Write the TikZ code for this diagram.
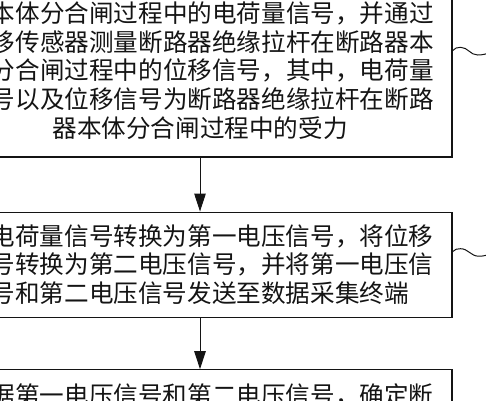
\documentclass[tikz,border=0pt]{standalone}
\usepackage{fontspec}
\setmainfont{Noto Sans CJK SC}
\usepackage{tikz}
\usetikzlibrary{arrows.meta, positioning}
\definecolor{inkblack}{RGB}{20, 20, 20}
\newcommand{\cjkstrut}{\rule[-0.12em]{0pt}{1em}}

\begin{document}
\begin{tikzpicture}[x=1pt, y=1pt,
  stepbox/.style={draw=inkblack, line width=1.1pt, text=inkblack, text width=468pt, inner xsep=18pt, inner ysep=0pt,
    font=\fontsize{24.6pt}{28.7pt}\selectfont, execute at begin node=\cjkstrut, execute at end node=\cjkstrut},
  flow/.style={draw=inkblack, line width=1pt, -{Triangle[length=18pt, width=11.5pt]}},
  leader/.style={draw=inkblack, line width=1pt}]
  \useasboundingbox (0,0) rectangle (486,400);
  \clip (0,0) rectangle (486,400);

  \node[stepbox, align=center, minimum height=173pt] (measure) at (200,329.5) {
    \phantom{器}本体分合闸过程中的电荷量信号，并通过\\
    \phantom{位}移传感器测量断路器绝缘拉杆在断路器本\\
    \phantom{体}分合闸过程中的位移信号，其中，电荷量\\
    \phantom{信}号以及位移信号为断路器绝缘拉杆在断路\\
    器本体分合闸过程中的受力
  };
  \node[stepbox, align=left, minimum height=105pt, below=54pt of measure] (convert) {
    \phantom{将}电荷量信号转换为第一电压信号，将位移\\
    \phantom{信}号转换为第二电压信号，并将第一电压信\\
    \phantom{信}号和第二电压信号发送至数据采集终端
  };
  \node[stepbox, align=left, minimum height=51pt, below=51.5pt of convert] (decide) {
    \phantom{根}据第一电压信号和第二电压信号，确定断
  };

  \draw[flow] (measure) -- (convert);
  \draw[flow] (convert) -- (decide);

  % wavy leaders towards the step labels
  \draw[leader] (measure.east |- 0,349.3) to[out=50, in=180] ++(8,3.4) to[out=0, in=180] ++(17,-7.7) to[out=0, in=200] ++(14,3);
  \draw[leader] (convert.east |- 0,148.3) to[out=50, in=180] ++(8,3) to[out=0, in=180] ++(18,-7.5) to[out=0, in=200] ++(14,3);
\end{tikzpicture}
\end{document}
